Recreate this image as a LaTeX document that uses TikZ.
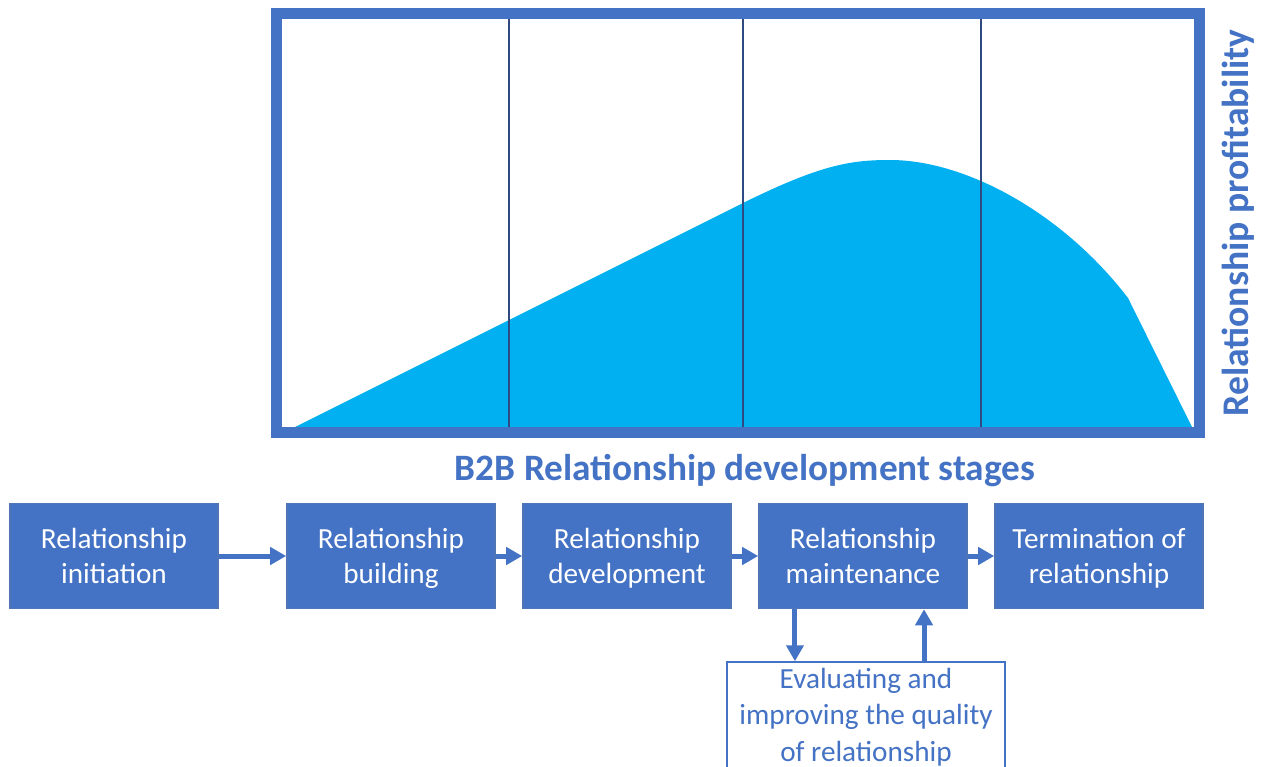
\documentclass[tikz,border=0pt]{standalone}
\usepackage{fontspec}
\setmainfont{Carlito}
\usetikzlibrary{arrows.meta}

\definecolor{stageblue}{HTML}{4472C4}
\definecolor{profitcyan}{HTML}{00B0F0}
\definecolor{gridnavy}{HTML}{2F4A80}

\begin{document}
\begin{tikzpicture}[x=0.01cm,y=-0.01cm]
	\useasboundingbox (0,0) rectangle (1267,767);
	\clip (0,0) rectangle (1267,767);
	% profitability curve
	\fill [profitcyan] (295,427) -- (743,203) .. controls (820,165) and (850,160) .. (890,160)
		.. controls (965,160) and (1062,212) .. (1128,298) -- (1192,427) -- cycle;
	\draw [gridnavy, line width=0.35pt] (509,19) -- (509,427);
	\draw [gridnavy, line width=0.35pt] (743,19) -- (743,427);
	\draw [gridnavy, line width=0.35pt] (981,19) -- (981,427);
	\draw [stageblue, line width=0.11cm] (276.5,13.5) rectangle (1199.5,432);
	\node [stageblue, font=\fontsize{10.6}{12}\selectfont\bfseries] (axis) at (745,471) {B2B Relationship development stages};
	\node [stageblue, rotate=90, font=\fontsize{10.7}{12}\selectfont\bfseries] (profit) at (1238,223) {Relationship profitability};
	\begin{scope}[every node/.style={fill=stageblue,draw=stageblue!80!gray,text=white,minimum width=2.08cm,minimum height=1.05cm,inner sep=0pt,align=center,font=\fontsize{8.3}{10}\selectfont}]
	\node (init) at (114,556) {Relationship\\\smash{initiation}};
	\node (build) at (391,556) {Relationship\\\smash{building}};
	\node (dev) at (627,556) {Relationship\\\smash{development}};
	\node (maint) at (863,556) {Relationship\\\smash{maintenance}};
	\node (term) at (1099,556) {Termination of\\\smash{relationship}};
	\end{scope}
	\node [draw=stageblue, fill=white, text=stageblue, minimum width=2.78cm, minimum height=1.1cm, inner sep=0pt, align=center, font=\fontsize{8.3}{10.3}\selectfont] (eval) at (866,717) {Evaluating and\\improving the quality\\of relationship};
	\begin{scope}[stageblue, line width=0.05cm, -{Triangle[length=0.16cm,width=0.17cm]}]
	\draw (init) -- (build);
	\draw (build) -- (dev);
	\draw (dev) -- (maint);
	\draw (maint) -- (term);
	\draw ([xshift=-0.68cm]maint.south) -- ([xshift=-0.68cm]maint.south |- eval.north);
	\draw ([xshift=0.61cm]maint.south |- eval.north) -- ([xshift=0.61cm]maint.south);
	\end{scope}
\end{tikzpicture}
\end{document}
